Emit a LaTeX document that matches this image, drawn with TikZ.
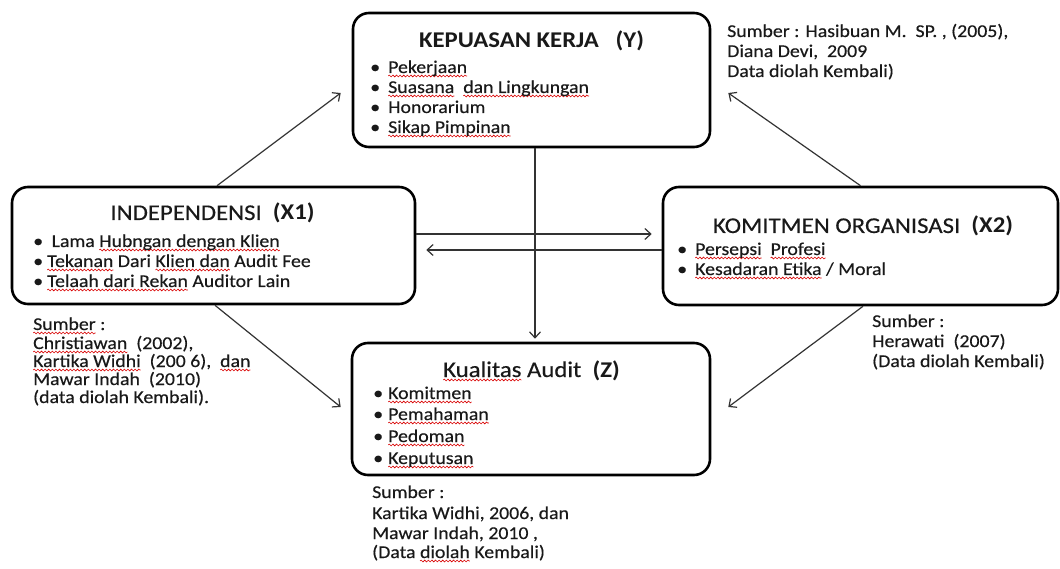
\documentclass[tikz,border=0pt]{standalone}
\usepackage{fontspec}
\setmainfont{Carlito}[FakeStretch=1.1, UprightFeatures={FakeBold=0.3}]
\usetikzlibrary{arrows.meta,calc,decorations.pathmorphing}
\newsavebox\rwbox
\newlength\rwlen
\newcommand\rw[1]{\sbox\rwbox{#1}\setlength\rwlen{\wd\rwbox}%
  \rlap{\tikz[overlay,x=1pt,y=1pt]\draw[red!85!black,line width=0.6pt,decorate,
    decoration={snake,amplitude=0.9pt,segment length=3.6pt}] (0pt,-3pt) -- (\rwlen,-3pt);}%
  \usebox\rwbox}
\newcommand\bul[1]{\makebox[0pt]{\textbullet}\hspace{#1}}
\tikzset{
  box/.style={draw=black, line width=2.6pt, rounded corners=16pt, inner sep=0pt},
  ttl/.style={anchor=base, inner sep=0pt, text=black!90, font=\fontsize{22.5}{24}\selectfont},
  itm/.style={anchor=base west, inner sep=0pt, text=black!90, font=\fontsize{18}{20}\selectfont},
  src/.style={anchor=base west, inner sep=0pt, text=black!90, font=\fontsize{18}{20}\selectfont},
  arr/.style={line width=1.2pt, draw=black!80, -{Straight Barb[length=6pt,width=11pt]}},
}
\begin{document}
\begin{tikzpicture}[x=1pt,y=-1pt]
\useasboundingbox[fill=white] (0,0) rectangle (1060,569);

% boxes
\node[box, minimum width=357pt, minimum height=134pt] (Y)  at (531.5,80) {};
\node[box, minimum width=403pt, minimum height=117pt] (X1) at (213.5,245.5) {};
\node[box, minimum width=395pt, minimum height=118pt] (X2) at (860.5,246) {};
\node[box, minimum width=358pt, minimum height=132pt] (Z)  at (531,409) {};

% Y content
\node[ttl] (Yt) at (531.5,48) {\textbf{KEPUASAN KERJA\ \ \ (Y)}};
\node[itm] (Y1) at (375,73)  {\bul{13pt}\rw{Pekerjaan}};
\node[itm] (Y2) at (375,93)  {\bul{13pt}\rw{Suasana}\ \ \rw{dan Lingkungan}};
\node[itm] (Y3) at (375,113) {\bul{13pt}Honorarium};
\node[itm] (Y4) at (375,133) {\bul{13pt}\rw{Sikap Pimpinan}};

% X1 content
\node[ttl] (X1t) at (212.5,220) {INDEPENDENSI\ \ \textbf{(X1)}};
\node[itm] (X11) at (38,247) {\bul{9pt}\ Lama \rw{Hubngan dengan Klien}};
\node[itm] (X12) at (38,267) {\bul{9pt}\rw{Tekanan} Dari \rw{Klien dan} Audit Fee};
\node[itm] (X13) at (38,287) {\bul{9pt}\rw{Telaah dari Rekan} Auditor Lain};

% X2 content
\node[ttl] (X2t) at (863,233) {KOMITMEN ORGANISASI\ \ \textbf{(X2)}};
\node[itm] (X21) at (682,255) {\bul{13pt}\rw{Persepsi}\ \ \rw{Profesi}};
\node[itm] (X22) at (682,275) {\bul{13pt}\rw{Kesadaran Etika} / Moral};

% Z content
\node[ttl] (Zt) at (531.5,377) {\rw{Kualitas} Audit\ \ \textbf{(Z)}};
\node[itm] (Z1) at (378,399) {\bul{10pt}\rw{Komitmen}};
\node[itm] (Z2) at (378,420) {\bul{10pt}\rw{Pemahaman}};
\node[itm] (Z3) at (378,442) {\bul{10pt}\rw{Pedoman}};
\node[itm] (Z4) at (378,464) {\bul{10pt}\rw{Keputusan}};

% sources
\node[src] (sY1) at (727,37) {Sumber : Hasibuan M.\ \ SP. , (2005),};
\node[src] (sY2) at (727,57) {Diana Devi,\ \ 2009};
\node[src] (sY3) at (727,77) {Data diolah Kembali)};

\node[src] (s11) at (33,330) {\rw{Sumber} :};
\node[src] (s12) at (33,349) {\rw{Christiawan}\ \ (2002),};
\node[src] (s13) at (33,367) {\rw{Kartika Widhi}\ \ (200 6),\ \ \rw{dan}};
\node[src] (s14) at (33,385) {Mawar Indah\ \ (2010)};
\node[src] (s15) at (33,403) {(data diolah Kembali).};

\node[src] (s21) at (872,327) {Sumber :};
\node[src] (s22) at (872,347) {Herawati\ \ (2007)};
\node[src] (s23) at (872,367) {(Data diolah Kembali)};

\node[src] (sZ1) at (372,498) {Sumber :};
\node[src] (sZ2) at (372,519) {Kartika Widhi, 2006, dan};
\node[src] (sZ3) at (372,539) {Mawar Indah, 2010 ,};
\node[src] (sZ4) at (372,558) {(Data \rw{diolah} Kembali)};

% connectors
\draw[arr] ($(X1.north)+(3.5,0)$) -- ($(Y.west)+(-11,13)$);
\draw[arr] ($(X1.south)+(1.5,0)$) -- ($(Z.west)+(-10,-2)$);
\draw[arr] (X2.north) -- ($(Y.east)+(17,13)$);
\draw[arr] ($(X2.south)+(2.5,0)$) -- ($(Z.east)+(17,-2)$);
\draw[arr] ($(X1.east)+(0,-11.5)$) -- ($(X2.west)+(-10,-12)$);
\draw[arr] ($(X2.west)+(0,4)$) -- ($(X1.east)+(10,4.5)$);
\draw[arr] ($(Y.south)+(3.5,0)$) -- ($(Z.north)+(4,-3)$);
\end{tikzpicture}
\end{document}
